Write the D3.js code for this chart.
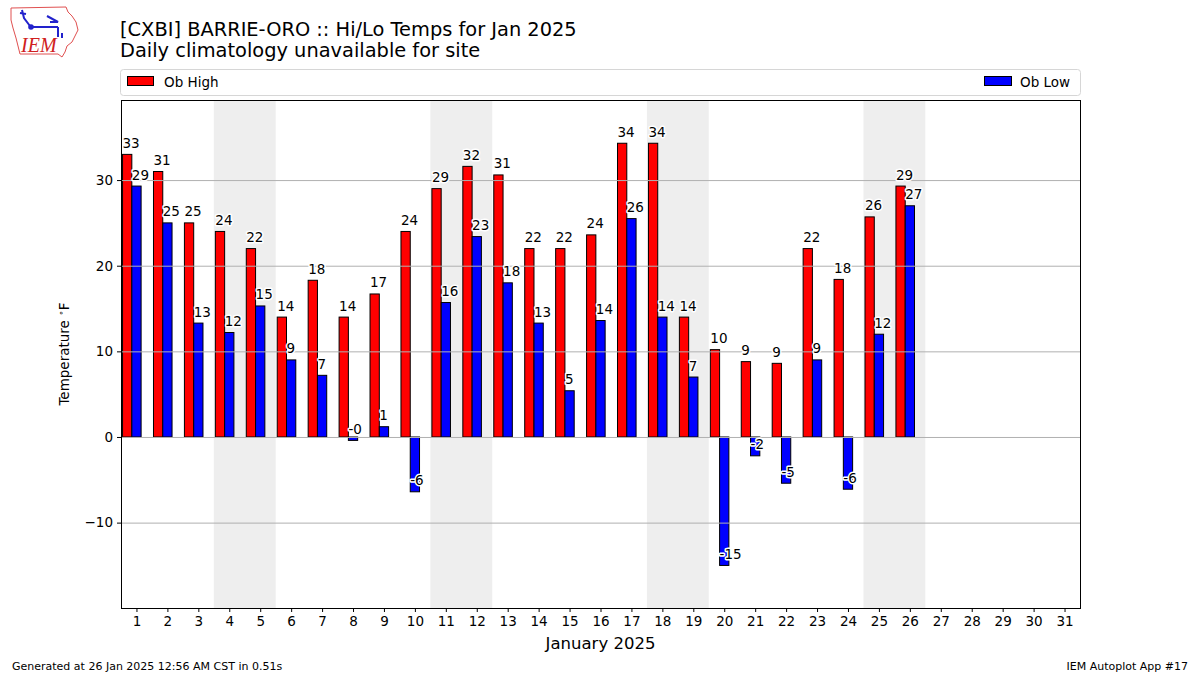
<!DOCTYPE html>
<html>
<head>
<meta charset="utf-8">
<script src="https://cdn.jsdelivr.net/npm/d3@7"></script>
<style>
  body { margin: 0; background: #fff; }
  svg { display: block; font-family: "DejaVu Sans", sans-serif; }
</style>
</head>
<body>
<svg id="chart" width="1200" height="675"></svg>
<script>
const days = d3.range(1, 32);
const highs = [33, 31, 25, 24, 22, 14, 18.3, 14, 16.7, 24, 29, 31.6, 30.6, 22, 22, 23.6, 34.3, 34.3, 14, 10.2, 8.8, 8.6, 22, 18.4, 25.7, 29.3];
const lows = [29.3, 25, 13.3, 12.2, 15.3, 9, 7.2, -0.4, 1.2, -6.4, 15.7, 23.4, 18, 13.3, 5.4, 13.6, 25.5, 14, 7, -15, -2.2, -5.4, 9, -6.1, 12, 27];
const weekendStarts = [4, 11, 18, 25];
const yTicks = [-10, 0, 10, 20, 30];
const titleLines = ["[CXBI] BARRIE-ORO :: Hi/Lo Temps for Jan 2025", "Daily climatology unavailable for site"];

const svg = d3.select("#chart");
const L = 121, R = 1080, T = 100, B = 608;
const x = d3.scaleLinear().domain([0.5, 31.5]).range([L, R]);
const y = d3.scaleLinear().domain([-19.97, 39.35]).range([B, T]);
const bw = 0.3;

// weekend shading
svg.append("g").selectAll("rect").data(weekendStarts).join("rect")
  .attr("x", d => x(d - 0.5)).attr("width", d => x(d + 1.5) - x(d - 0.5))
  .attr("y", T).attr("height", B - T).attr("fill", "#eeeeee");

const fmt = v => (v < 0 ? "-" + Math.round(-v) : String(Math.round(v)));

// bars
const hiData = highs.map((v, i) => ({ d: i + 1, v }));
const loData = lows.map((v, i) => ({ d: i + 1, v }));
function bars(data, off, color) {
  svg.append("g").selectAll("rect").data(data).join("rect")
    .attr("x", d => x(d.d + off - bw / 2))
    .attr("width", x(bw) - x(0))
    .attr("y", d => y(Math.max(0, d.v)))
    .attr("height", d => Math.abs(y(d.v) - y(0)))
    .attr("fill", color).attr("stroke", "#000").attr("stroke-width", 1);
}
bars(hiData, -0.3, "#ff0000");
bars(loData, 0, "#0000ff");

// grid lines (above bars)
svg.append("g").selectAll("line").data(yTicks).join("line")
  .attr("x1", L).attr("x2", R).attr("y1", d => y(d) + 0.5).attr("y2", d => y(d) + 0.5)
  .attr("stroke", "#b0b0b0").attr("stroke-width", 1);

// value labels
function labels(data, off) {
  svg.append("g").selectAll("text").data(data).join("text")
    .attr("x", d => x(d.d + off - bw / 2))
    .attr("y", d => y(d.v) - 6.5)
    .attr("font-size", 13.5).attr("fill", "#000")
    .attr("stroke", "#fff").attr("stroke-width", 3).attr("paint-order", "stroke")
    .attr("stroke-linejoin", "round")
    .text(d => fmt(d.v));
}
labels(hiData, -0.3);
labels(loData, 0);

// axes
const xAxis = d3.axisBottom(x).tickValues(days).tickSize(4).tickPadding(4).tickFormat(d3.format("d"));
const gx = svg.append("g").attr("transform", `translate(0,${B})`).call(xAxis);
gx.select(".domain").remove();
gx.selectAll("text").attr("font-size", 13.5).attr("font-family", "DejaVu Sans").attr("fill", "#000");

const yAxis = d3.axisLeft(y).tickValues(yTicks).tickSize(4).tickPadding(4).tickFormat(d => d < 0 ? "\u2212" + Math.abs(d) : d);
const gy = svg.append("g").attr("transform", `translate(${L},0)`).call(yAxis);
gy.select(".domain").remove();
gy.selectAll("text").attr("font-size", 13.5).attr("font-family", "DejaVu Sans").attr("fill", "#000");

svg.append("rect").attr("x", L + 0.5).attr("y", T + 0.5).attr("width", R - L).attr("height", B - T)
  .attr("fill", "none").attr("stroke", "#000").attr("stroke-width", 1);

// axis labels
svg.append("text").attr("x", (L + R) / 2).attr("y", 649).attr("text-anchor", "middle")
  .attr("font-size", 16.5).text("January 2025");
const yl = svg.append("text").attr("transform", `translate(69,${(T + B) / 2}) rotate(-90)`)
  .attr("text-anchor", "middle").attr("font-size", 13.5);
yl.append("tspan").text("Temperature ");
yl.append("tspan").attr("font-size", 9).attr("dy", -5).text("\u2218");
yl.append("tspan").attr("dy", 5).text("F");

// title
svg.append("g").selectAll("text").data(titleLines).join("text")
  .attr("x", 120).attr("y", (d, i) => 36 + i * 21).attr("font-size", 19.4).text(d => d);

// legend
const lg = svg.append("g");
lg.append("rect").attr("x", 120.5).attr("y", 69.5).attr("width", 960).attr("height", 26).attr("rx", 3)
  .attr("fill", "#fff").attr("stroke", "#d6d6d6");
lg.append("rect").attr("x", 127.5).attr("y", 76.5).attr("width", 26).attr("height", 9).attr("fill", "#ff0000").attr("stroke", "#000");
lg.append("text").attr("x", 164).attr("y", 86.5).attr("font-size", 13.5).text("Ob High");
lg.append("rect").attr("x", 984.5).attr("y", 76.5).attr("width", 27).attr("height", 9).attr("fill", "#0000ff").attr("stroke", "#000");
lg.append("text").attr("x", 1020).attr("y", 86.5).attr("font-size", 13.5).text("Ob Low");

// footer
svg.append("text").attr("x", 12).attr("y", 670).attr("font-size", 11).text("Generated at 26 Jan 2025 12:56 AM CST in 0.51s");
svg.append("text").attr("x", 1188).attr("y", 670).attr("text-anchor", "end").attr("font-size", 11).text("IEM Autoplot App #17");

// logo (approximation)
const logo = svg.append("g");
logo.append("path")
  .attr("d", "M11,8 L66,7 L68,12 L72,16 L76,22 L78,30 L75,36 L72,42 L67,46 L65,52 L62,57 L58,54 L20,54 L18,46 L16,38 L13,28 L11,20 Z")
  .attr("fill", "none").attr("stroke", "#e05050").attr("stroke-width", 1);
logo.append("path").attr("d", "M30,27 L58,27 M58,27 L58,37 M62,33 L62,38 M47,16 L58,22 L50,22 M22,10 L24,18 L30,26 M20,13 L26,14")
  .attr("fill", "none").attr("stroke", "#2222cc").attr("stroke-width", 2);
logo.append("circle").attr("cx", 31).attr("cy", 27).attr("r", 2.8).attr("fill", "#2222cc");
logo.append("text").attr("x", 21).attr("y", 52).attr("font-family", "Liberation Serif").attr("font-style", "italic")
  .attr("font-size", 20).attr("fill", "#d02020").text("IEM");
</script>
</body>
</html>
